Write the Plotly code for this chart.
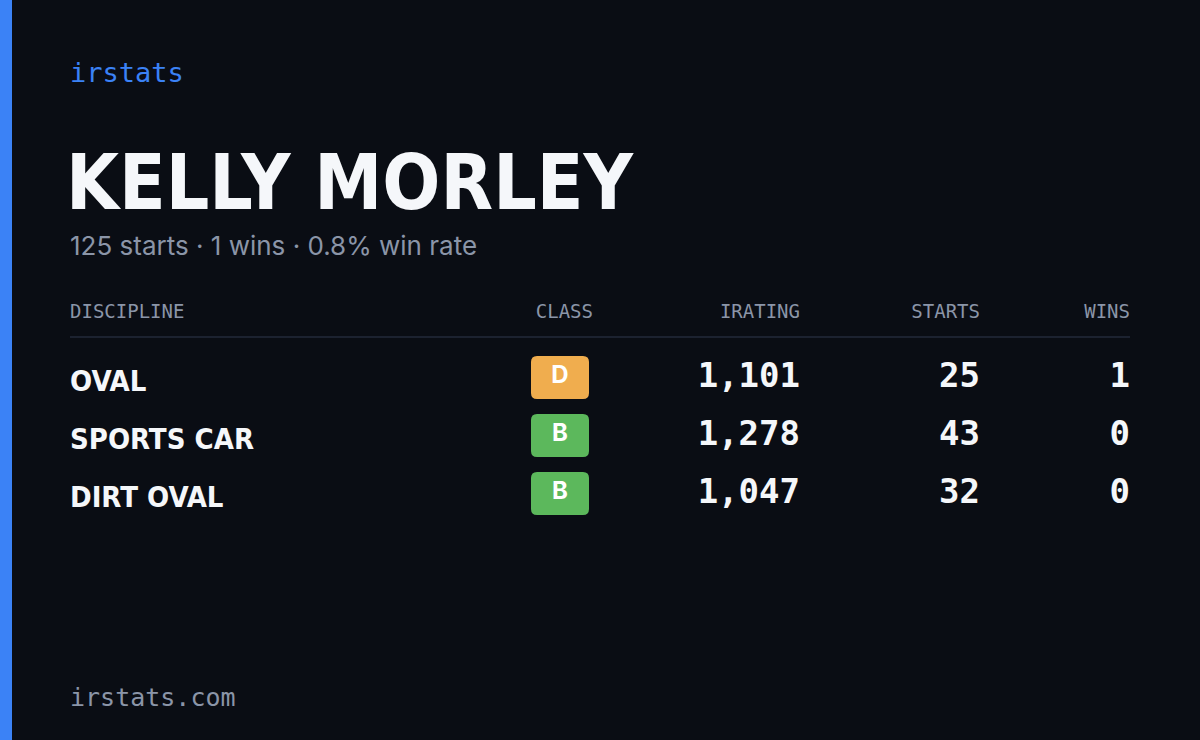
import plotly.graph_objects as go

disciplines = ["OVAL", "SPORTS CAR", "DIRT OVAL"]
classes = ["D", "B", "B"]
iratings = [1101, 1278, 1047]
starts = [25, 43, 32]
wins = [1, 0, 0]
headers = ["DISCIPLINE", "CLASS", "IRATING", "STARTS", "WINS"]
total_starts = 125
total_wins = 1
win_rate = 0.8

class_colors = {"D": "#f0ad4e", "B": "#5cb85c"}
bg = "#0a0d14"
mono = "DejaVu Sans Mono"
narrow = "DejaVu Sans Condensed"

row_y = [378 + 58 * i for i in range(len(disciplines))]

fig = go.Figure()

# table cells
fig.add_trace(go.Scatter(x=[70] * 3, y=[y + 6 for y in row_y], mode="text", text=disciplines,
                         textposition="middle right",
                         textfont=dict(family=narrow, size=29, color="#f5f7fa", weight="bold")))
for col_x, vals in [(800, [f"{v:,}" for v in iratings]), (980, starts), (1130, wins)]:
    fig.add_trace(go.Scatter(x=[col_x] * 3, y=row_y, mode="text", text=[str(v) for v in vals],
                             textposition="middle left",
                             textfont=dict(family=mono, size=34, color="#f5f7fa", weight="bold")))

# class badges
for y, c in zip(row_y, classes):
    x0, x1, y0, y1, r = 531, 589, y - 22, y + 21, 6
    path = (f"M{x0+r},{y0} L{x1-r},{y0} Q{x1},{y0} {x1},{y0+r} L{x1},{y1-r} Q{x1},{y1} {x1-r},{y1} "
            f"L{x0+r},{y1} Q{x0},{y1} {x0},{y1-r} L{x0},{y0+r} Q{x0},{y0} {x0+r},{y0} Z")
    fig.add_shape(type="path", path=path, fillcolor=class_colors[c], line_width=0, layer="below")
fig.add_trace(go.Scatter(x=[560] * 3, y=[y - 1 for y in row_y], mode="text", text=classes,
                         textfont=dict(family="Inter", size=24, color="white", weight="bold")))

# headers
hx = [70, 593, 800, 980, 1130]
hpos = ["middle right", "middle left", "middle left", "middle left", "middle left"]
for x, h, p in zip(hx, headers, hpos):
    fig.add_trace(go.Scatter(x=[x], y=[313], mode="text", text=[h], textposition=p,
                             textfont=dict(family=mono, size=19, color="#8b95a8")))

fig.add_shape(type="line", x0=70, x1=1130, y0=337, y1=337, line=dict(color="#1c2230", width=2))
fig.add_shape(type="rect", x0=0, x1=12, y0=0, y1=740, fillcolor="#3b82f6", line_width=0)

def ann(x, y, t, font):
    fig.add_annotation(x=x, y=y, text=t, showarrow=False, xanchor="left", yanchor="middle", font=font)

ann(68, 72, "irstats", dict(family=mono, size=27, color="#3b82f6"))
ann(64, 182, "KELLY MORLEY", dict(family=narrow, size=76, color="#f5f7fa", weight="bold"))
ann(68, 245, f"{total_starts} starts · {total_wins} wins · {win_rate}% win rate",
    dict(family="Inter", size=26, color="#8b95a8"))
ann(68, 697, "irstats.com", dict(family=mono, size=25, color="#8b95a8"))

fig.update_layout(width=1200, height=740, margin=dict(l=0, r=0, t=0, b=0),
                  paper_bgcolor=bg, plot_bgcolor=bg, showlegend=False,
                  xaxis=dict(range=[0, 1200], visible=False, fixedrange=True),
                  yaxis=dict(range=[740, 0], visible=False, fixedrange=True))
fig.write_html("out.html", config={"displayModeBar": False},
               post_script="document.body.style.margin='0';document.body.style.overflow='hidden';")
